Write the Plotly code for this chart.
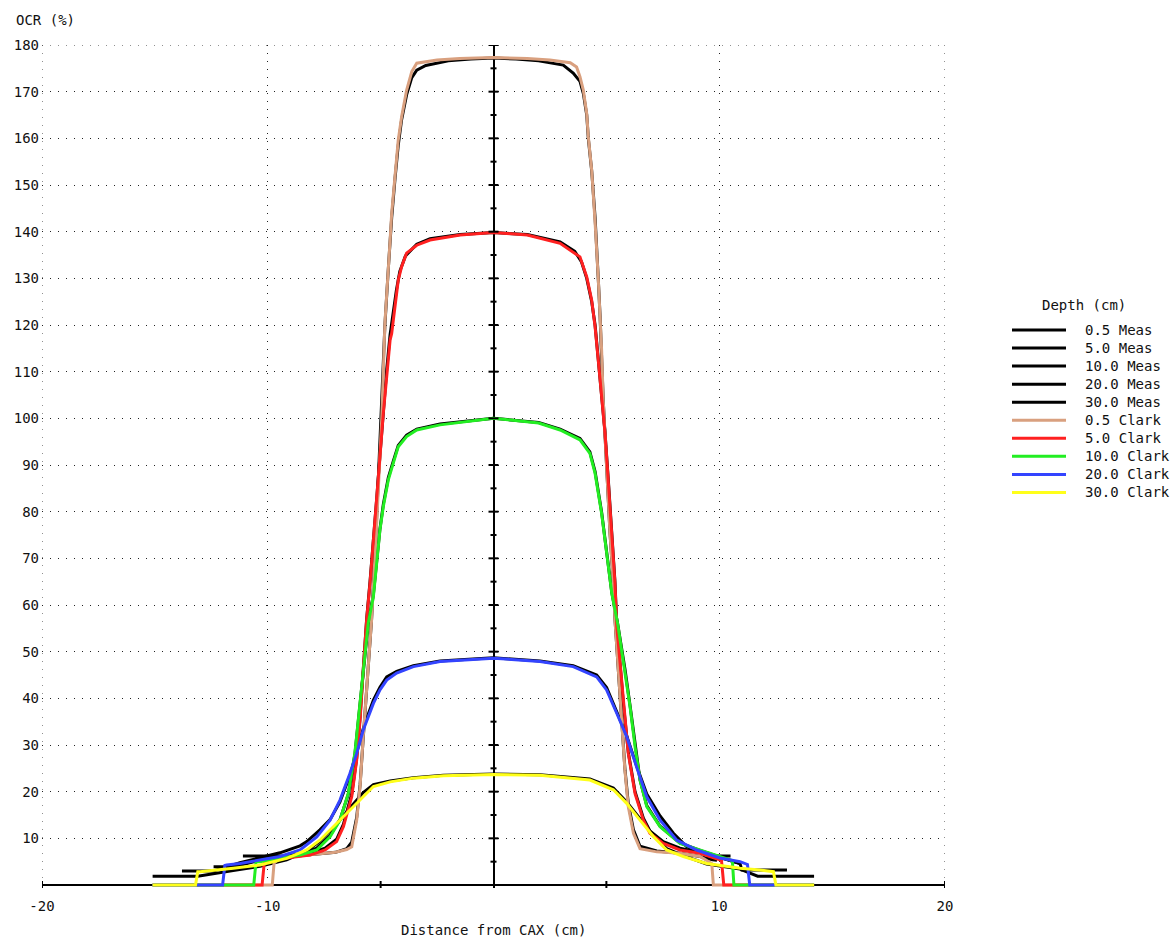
import plotly.graph_objects as go

# ---------------- data ----------------
# Measured profiles (black)
meas_05_x = [-10.0, -9.46, -8.27, -7.0, -6.5, -6.28, -6.06, -5.91, -5.77, -5.62, -5.40, -5.20, -4.97, -4.81, -4.66,
             -4.51, -4.36, -4.22, -4.07, -3.85, -3.62, -3.40, -3.0, -2.0, -1.0, 0.0, 1.0, 2.0, 3.09, 3.53, 3.83, 3.98,
             4.13, 4.20, 4.35, 4.50, 4.64, 4.72, 4.86, 5.01, 5.16, 5.31, 5.38, 5.53, 5.68, 5.82, 5.97, 6.20, 6.49,
             7.23, 8.26, 9.15, 9.70, 9.9]
meas_05_y = [5.4, 5.8, 6.4, 7.0, 7.8, 9.2, 14.5, 21.5, 31.5, 42.0, 57.0, 76.0, 100.0, 120.0, 132.0,
             143.0, 151.5, 158.5, 164.0, 169.3, 173.0, 174.6, 175.6, 176.6, 177.0, 177.2, 177.0, 176.6, 175.7, 174.0,
             172.2, 169.6, 165.0, 160.0, 153.0, 143.0, 130.0, 122.0, 104.0, 89.5, 75.5, 64.5, 57.0, 46.0, 35.5,
             25.0, 17.5, 11.8, 8.3, 7.3, 6.8, 6.1, 5.4, 5.3]

meas_5_x = [-11.1, -9.9, -9.16, -8.13, -7.46, -6.95, -6.65, -6.28, -6.06, -5.91, -5.77, -5.62, -5.47, -5.32, -5.17,
            -5.03, -4.88, -4.73, -4.58, -4.44, -4.30, -4.15, -3.90, -3.40, -2.81, -1.48, 0.0, 1.5, 2.95, 3.60, 3.90,
            4.13, 4.35, 4.50, 4.64, 4.79, 4.94, 5.09, 5.24, 5.38, 5.46, 5.75, 5.97, 6.27, 6.64, 6.93, 7.52, 8.26,
            9.15, 9.70, 10.5]
meas_5_y = [6.2, 6.2, 6.2, 6.8, 7.9, 9.8, 13.0, 19.5, 27.2, 36.0, 46.5, 57.0, 65.0, 73.5, 83.0,
            92.0, 101.5, 110.5, 118.0, 123.0, 127.5, 131.5, 134.8, 137.3, 138.5, 139.4, 139.8, 139.4, 137.8, 135.8,
            133.5, 130.0, 125.0, 120.0, 113.0, 105.5, 97.0, 86.5, 75.5, 65.0, 56.0, 39.0, 28.5, 20.0, 14.3, 11.6,
            9.3, 7.9, 7.0, 6.2, 6.2]

meas_10_x = [-12.4, -11.5, -11.1, -10.34, -9.46, -8.57, -7.83, -7.24, -6.80, -6.43, -6.14, -5.91, -5.69, -5.55,
             -5.32, -5.17, -5.03, -4.88, -4.66, -4.44, -4.22, -3.85, -3.40, -2.37, 0.0, 2.0, 2.95, 3.83, 4.27, 4.50,
             4.64, 4.79, 4.94, 5.09, 5.24, 5.50, 5.82, 6.05, 6.27, 6.49, 6.79, 7.38, 8.26, 9.15, 10.03, 10.92]
meas_10_y = [3.9, 3.9, 4.4, 5.3, 6.0, 6.7, 7.9, 10.6, 14.0, 19.5, 28.0, 38.5, 49.5, 56.0,
             62.3, 69.3, 76.3, 81.6, 87.3, 90.8, 94.2, 96.4, 97.7, 98.8, 100.0, 99.1, 97.7, 95.7, 92.8, 88.6,
             84.3, 79.9, 74.1, 68.4, 62.7, 56.0, 46.4, 38.4, 29.8, 22.5, 17.0, 12.6, 9.0, 7.4, 6.0, 4.6]

meas_20_x = [-13.8, -12.4, -11.23, -10.34, -9.46, -8.57, -8.27, -7.69, -7.24, -6.80, -6.36, -6.06, -5.77, -5.55,
             -5.32, -5.03, -4.73, -4.29, -3.55, -2.37, 0.0, 2.06, 3.53, 4.57, 5.01, 5.46, 5.90, 6.34, 6.79, 7.38,
             7.97, 8.56, 9.15, 10.03, 10.92, 11.0, 13.0]
meas_20_y = [3.0, 3.0, 4.8, 5.9, 6.9, 8.4, 9.3, 11.8, 14.0, 17.8, 23.5, 28.4, 33.5, 36.6,
             39.6, 42.4, 44.6, 45.8, 47.0, 48.0, 48.7, 48.0, 47.0, 45.0, 42.3, 37.1, 32.0, 25.5, 19.5, 14.8,
             11.1, 8.2, 7.1, 5.9, 4.6, 3.2, 3.2]

meas_30_x = [-15.1, -13.1, -11.53, -10.34, -9.16, -8.27, -7.69, -6.95, -6.36, -5.77, -5.32, -4.58, -3.55, -2.22,
             0.0, 2.06, 4.27, 5.31, 5.90, 6.49, 7.08, 7.67, 8.41, 9.44, 10.92, 11.7, 14.2]
meas_30_y = [1.9, 1.9, 3.1, 4.0, 5.4, 7.3, 9.4, 13.0, 16.5, 19.8, 21.5, 22.3, 23.0, 23.5,
             23.8, 23.6, 22.7, 20.8, 17.8, 14.1, 10.6, 7.8, 6.3, 4.5, 3.4, 1.9, 1.9]

# Clark model profiles (coloured)
clark_05_x = [-15.1, -9.8, -9.72, -9.46, -8.27, -7.0, -6.5, -6.28, -6.06, -5.91, -5.77, -5.62, -5.40, -5.20, -4.95,
              -4.81, -4.73, -4.58, -4.51, -4.36, -4.22, -4.07, -3.85, -3.62, -3.40, -2.5, -1.5, 0.0, 1.5, 2.5, 3.4,
              3.68, 3.83, 3.98, 4.13, 4.20, 4.35, 4.50, 4.57, 4.64, 4.72, 4.79, 4.86, 5.01, 5.16, 5.31, 5.38, 5.53,
              5.68, 5.82, 5.97, 6.20, 6.49, 7.23, 8.26, 9.15, 9.67, 9.74, 14.2]
clark_05_y = [0.0, 0.0, 4.7, 5.8, 6.4, 7.0, 7.6, 8.2, 13.9, 21.1, 31.8, 42.5, 56.8, 75.0, 100.0,
              120.4, 127.5, 138.2, 144.0, 152.5, 159.6, 164.6, 170.3, 174.3, 176.1, 176.8, 177.1, 177.3, 177.1,
              176.8, 176.2, 175.3, 173.2, 170.3, 165.3, 160.3, 153.2, 142.0, 136.8, 130.0, 121.8, 114.6, 103.9,
              89.6, 75.4, 64.7, 56.8, 46.1, 35.4, 24.6, 16.8, 11.1, 7.8, 7.1, 6.8, 6.1, 4.6, 0.0, 0.0]

clark_5_x = [-15.1, -10.25, -10.15, -10.05, -9.16, -8.13, -7.46, -6.95, -6.65, -6.28, -6.06, -5.91, -5.77, -5.62,
             -5.47, -5.32, -5.17, -5.03, -4.88, -4.73, -4.58, -4.51, -4.36, -4.22, -4.07, -3.85, -3.40, -2.81, -1.48,
             0.0, 1.5, 2.95, 3.83, 4.13, 4.35, 4.50, 4.64, 4.79, 4.94, 5.09, 5.24, 5.38, 5.46, 5.75, 5.97, 6.27,
             6.64, 6.93, 7.52, 8.26, 9.15, 10.03, 10.1, 10.2, 14.2]
clark_5_y = [0.0, 0.0, 5.0, 5.0, 5.8, 6.4, 7.5, 9.3, 12.5, 18.9, 26.8, 35.4, 46.1, 56.8,
             64.7, 73.3, 83.2, 91.8, 101.1, 109.7, 116.8, 118.2, 123.9, 129.6, 132.5, 135.4, 137.1, 138.2, 139.3,
             139.8, 139.3, 137.5, 134.6, 130.3, 125.3, 119.6, 112.5, 105.4, 96.8, 86.1, 75.4, 64.7, 55.4, 38.9,
             28.2, 19.6, 13.9, 11.1, 8.9, 7.5, 6.8, 5.4, 5.2, 0.0, 0.0]

clark_10_x = [-15.1, -10.62, -10.52, -10.34, -9.46, -8.57, -7.83, -7.24, -6.80, -6.43, -6.14, -5.91, -5.69, -5.55,
              -5.32, -5.17, -5.03, -4.88, -4.66, -4.44, -4.22, -3.85, -3.40, -2.37, 0.0, 2.0, 2.95, 3.83, 4.27, 4.50,
              4.64, 4.79, 4.94, 5.09, 5.24, 5.50, 5.82, 6.05, 6.27, 6.49, 6.79, 7.38, 8.26, 9.15, 10.03, 10.48,
              10.58, 10.65, 14.2]
clark_10_y = [0.0, 0.0, 5.0, 5.0, 5.8, 6.4, 7.5, 10.3, 13.9, 19.7, 28.3, 39.0, 49.7, 56.1,
              61.8, 69.0, 76.1, 81.1, 86.8, 90.4, 93.9, 96.1, 97.5, 98.6, 100.0, 99.0, 97.5, 95.4, 92.5, 88.2,
              83.9, 79.6, 73.9, 68.2, 62.5, 56.0, 46.1, 38.2, 29.6, 22.5, 16.8, 12.5, 8.9, 7.5, 6.1, 5.4,
              5.2, 0.0, 0.0]

clark_20_x = [-15.1, -12.0, -11.9, -11.82, -11.23, -10.34, -9.46, -8.57, -7.83, -7.24, -6.80, -6.36, -6.06, -5.77,
              -5.55, -5.32, -5.03, -4.73, -4.29, -3.55, -2.37, 0.0, 2.06, 3.53, 4.57, 5.01, 5.46, 5.90, 6.34, 6.79,
              7.38, 8.12, 9.00, 10.03, 10.92, 11.25, 11.35, 14.2]
clark_20_y = [0.0, 0.0, 4.2, 4.3, 4.6, 5.4, 6.1, 7.5, 10.3, 13.9, 18.2, 23.9, 28.2, 33.2,
              36.1, 38.9, 41.8, 43.9, 45.4, 46.8, 47.9, 48.6, 47.9, 46.8, 44.6, 41.8, 36.8, 31.8, 25.3, 18.9,
              13.9, 9.6, 7.5, 5.8, 5.0, 4.4, 0.0, 0.0]

clark_30_x = [-15.1, -13.2, -13.1, -13.0, -11.53, -10.34, -9.16, -8.27, -7.69, -6.95, -6.36, -5.77, -5.32, -4.58,
              -3.55, -2.22, 0.0, 2.06, 4.27, 5.31, 5.90, 6.49, 7.08, 7.67, 8.41, 9.44, 10.92, 11.80, 12.40, 12.51,
              14.2]
clark_30_y = [0.0, 0.0, 2.85, 2.85, 3.6, 4.3, 5.7, 7.5, 9.6, 13.2, 16.1, 19.0, 21.1, 22.1,
              22.9, 23.4, 23.7, 23.5, 22.5, 20.4, 17.5, 13.9, 10.4, 7.5, 6.1, 4.6, 3.6, 3.2, 2.85, 0.0,
              0.0]

series_names = ["0.5 Meas", "5.0 Meas", "10.0 Meas", "20.0 Meas", "30.0 Meas",
                "0.5 Clark", "5.0 Clark", "10.0 Clark", "20.0 Clark", "30.0 Clark"]
series_x = [meas_05_x, meas_5_x, meas_10_x, meas_20_x, meas_30_x,
            clark_05_x, clark_5_x, clark_10_x, clark_20_x, clark_30_x]
series_y = [meas_05_y, meas_5_y, meas_10_y, meas_20_y, meas_30_y,
            clark_05_y, clark_5_y, clark_10_y, clark_20_y, clark_30_y]
series_colors = ["#000000"] * 5 + ["#D9A07F", "#FF2020", "#22EE22", "#3344FF", "#FFFF1A"]

y_tick_vals = list(range(10, 181, 10))
x_tick_vals = [-20, -10, 10, 20]
x_axis_marks = [-20, -5, 5, 20]
X_MIN, X_MAX, Y_MAX = -20, 20, 180

# ---------------- layout geometry ----------------
W, H = 1170, 938
PL, PR = 42, 945          # pixel x of x=-20 and x=20
PT, P0 = 45, 885          # pixel y of y=180 and y=0
MB = 50
plot_bottom = H - MB
ymin = -(plot_bottom - P0) / ((P0 - PT) / 180.0)

def paper_x(px):
    return (px - PL) / (PR - PL)

def paper_y(py):
    return (plot_bottom - py) / (plot_bottom - PT)

FONT = "DejaVu Sans Mono"
GRID_COL = "#222"
GRID_DASH = "1px,7px"

fig = go.Figure()
for name, xs, ys, col in zip(series_names, series_x, series_y, series_colors):
    fig.add_trace(go.Scatter(x=xs, y=ys, mode="lines", name=name,
                             line=dict(color=col, width=3), showlegend=False,
                             hoverinfo="skip"))

shapes = []
# dotted grid on the frame edges (plotly drops grid lines lying on the range ends)
shapes.append(dict(type="line", xref="x", yref="y", x0=X_MIN, x1=X_MAX, y0=Y_MAX, y1=Y_MAX,
                   line=dict(color=GRID_COL, width=1, dash=GRID_DASH), layer="below"))
for xv in (X_MIN, X_MAX):
    shapes.append(dict(type="line", xref="x", yref="y", x0=xv, x1=xv, y0=Y_MAX, y1=0,
                       line=dict(color=GRID_COL, width=1, dash=GRID_DASH), layer="below"))
# tick marks on the central vertical axis
for v in range(5, 181, 5):
    half = 5 if v % 10 == 0 else 3
    shapes.append(dict(type="line", xref="x", yref="y", xsizemode="pixel", xanchor=0,
                       x0=-half, x1=half, y0=v, y1=v, line=dict(color="black", width=2)))
# tick marks on the horizontal axis
for v in x_axis_marks:
    shapes.append(dict(type="line", xref="x", yref="y", ysizemode="pixel", yanchor=0,
                       x0=v, x1=v, y0=-4, y1=4, line=dict(color="black", width=2)))

annotations = [
    dict(text="OCR (%)", x=paper_x(14), y=paper_y(20), xref="paper", yref="paper",
         xanchor="left", yanchor="middle", showarrow=False, font=dict(family=FONT, size=14, color="#111")),
    dict(text="Distance from CAX (cm)", x=paper_x(493), y=paper_y(930), xref="paper", yref="paper",
         xanchor="center", yanchor="middle", showarrow=False, font=dict(family=FONT, size=14, color="#111")),
    dict(text="Depth (cm)", x=paper_x(1084), y=paper_y(305), xref="paper", yref="paper",
         xanchor="center", yanchor="middle", showarrow=False, font=dict(family=FONT, size=14, color="#111")),
]
# manual legend
for i, (name, col) in enumerate(zip(series_names, series_colors)):
    py = 330 + i * 18.05
    shapes.append(dict(type="line", xref="paper", yref="paper",
                       x0=paper_x(1012), x1=paper_x(1066), y0=paper_y(py), y1=paper_y(py),
                       line=dict(color=col, width=3)))
    annotations.append(dict(text=name, x=paper_x(1083), y=paper_y(py), xref="paper", yref="paper",
                            xanchor="left", yanchor="middle", showarrow=False,
                            font=dict(family=FONT, size=14, color="#111")))

fig.update_layout(
    width=W, height=H,
    margin=dict(l=PL, r=W - PR, t=PT, b=MB),
    paper_bgcolor="white", plot_bgcolor="white",
    font=dict(family=FONT, size=14, color="#111"),
    showlegend=False,
    shapes=shapes,
    annotations=annotations,
    xaxis=dict(range=[X_MIN, X_MAX], tickvals=x_tick_vals, ticktext=[str(v) for v in x_tick_vals],
               ticks="", showline=False, showgrid=True, gridcolor=GRID_COL, gridwidth=1,
               griddash=GRID_DASH, zeroline=True, zerolinecolor="black", zerolinewidth=2,
               ticklabelstandoff=8, tickfont=dict(family=FONT, size=14, color="#111")),
    yaxis=dict(range=[ymin, Y_MAX], tickvals=y_tick_vals, ticktext=[str(v) for v in y_tick_vals],
               ticks="", showline=False, showgrid=True, gridcolor=GRID_COL, gridwidth=1,
               griddash=GRID_DASH, zeroline=True, zerolinecolor="black", zerolinewidth=2,
               ticklabelstandoff=2, tickfont=dict(family=FONT, size=14, color="#111")),
)

fig.write_html("out.html")
